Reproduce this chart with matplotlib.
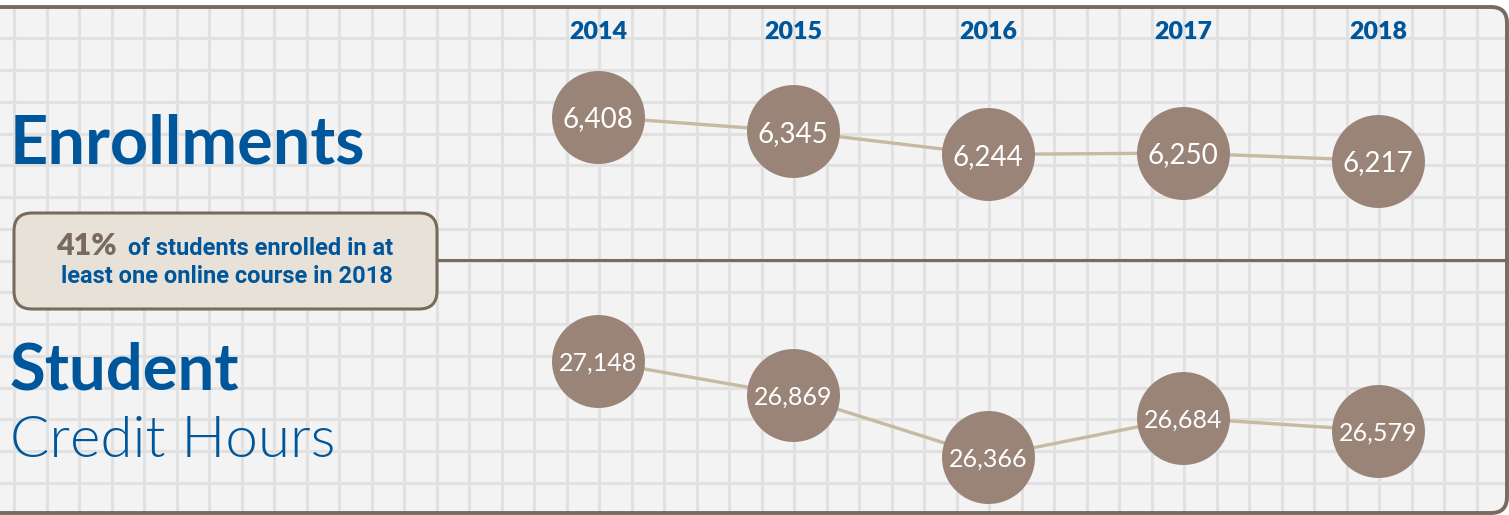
import matplotlib
matplotlib.use("Agg")
import matplotlib.pyplot as plt
from matplotlib.patches import FancyBboxPatch

# data
years = [2014, 2015, 2016, 2017, 2018]
enrollments = [6408, 6345, 6244, 6250, 6217]
credit_hours = [27148, 26869, 26366, 26684, 26579]
online_share = "41%"
note_rest = "of students enrolled in at"
note_line2 = "least one online course in 2018"

# colours
BG = "#f3f3f3"
GRID = "#e1e1e1"
BORDER = "#786b5d"
BLUE = "#00569a"
CIRCLE = "#9a8477"
LINK = "#c6baa2"
BOXFILL = "#e8e1d8"

W, H = 1509, 515
fig = plt.figure(figsize=(W / 100, H / 100), dpi=100, facecolor="white")

# background axes in pixel coords (y down)
bg = fig.add_axes([0, 0, 1, 1])
bg.set_xlim(0, W)
bg.set_ylim(H, 0)
bg.axis("off")

frame = FancyBboxPatch((-60, 7), W + 60 - 2, 506, boxstyle="round,pad=0,rounding_size=16",
                       facecolor=BG, edgecolor="none", zorder=0)
bg.add_patch(frame)

# graph-paper grid
x = 14.0
while x < W:
    ln = bg.axvline(x, color=GRID, lw=2.2, zorder=1)
    ln.set_clip_path(frame)
    x += 32.5
y = 6.6
while y < H:
    ln = bg.axhline(y, color=GRID, lw=2.2, zorder=1)
    ln.set_clip_path(frame)
    y += 31.75

border = FancyBboxPatch((-60, 7), W + 60 - 2, 506, boxstyle="round,pad=0,rounding_size=16",
                        facecolor="none", edgecolor=BORDER, lw=2.8, zorder=5)
bg.add_patch(border)

# divider between the two panels
bg.plot([438, W], [260, 260], color=BORDER, lw=2.2, zorder=2)

# note box
box = FancyBboxPatch((14, 213), 423, 96, boxstyle="round,pad=0,rounding_size=18",
                     facecolor=BOXFILL, edgecolor=BORDER, lw=2.2, zorder=3)
bg.add_patch(box)
bg.text(56, 255, online_share, fontfamily="Lato", fontweight="heavy", fontsize=22,
        color=BORDER, va="baseline", ha="left", zorder=4)
bg.text(128, 255, note_rest, fontfamily="Roboto", fontweight="bold",
        fontsize=17, color=BLUE, va="baseline", ha="left", zorder=4)
bg.text(227, 283, note_line2, fontfamily="Roboto", fontweight="bold",
        fontsize=17, color=BLUE, va="baseline", ha="center", zorder=4)

# headings
bg.text(10, 164, "Enrollments", fontfamily="Lato", fontweight="bold", fontsize=48,
        color=BLUE, va="baseline", ha="left", zorder=4)
bg.text(10, 389, "Student", fontfamily="Lato", fontweight="bold", fontsize=47,
        color=BLUE, va="baseline", ha="left", zorder=4)
bg.text(10, 457, "Credit Hours", fontfamily="Lato", fontweight=300, fontsize=42,
        color=BLUE, va="baseline", ha="left", zorder=4)


def panel(top, bottom, ylim, values, size):
    # axes placed by pixel rows, data mapped through its own y scale
    ax = fig.add_axes([598 / W, 1 - bottom / H, 780 / W, (bottom - top) / H])
    ax.set_xlim(years[0], years[-1])
    ax.set_ylim(*ylim)
    ax.axis("off")
    ax.plot(years, values, color=LINK, lw=2.4, zorder=2, clip_on=False)
    ax.scatter(years, values, s=4480, color=CIRCLE, zorder=3, clip_on=False, linewidths=0)
    for yr, v in zip(years, values):
        ax.text(yr, v, f"{v:,}", fontfamily="Lato", fontsize=size, color="white",
                ha="center", va="center_baseline", zorder=4)
    return ax


ax1 = panel(60, 210, (6002, 6655), enrollments, 20)
panel(300, 500, (26014, 27644), credit_hours, 18)

# year labels above the top panel
for yr in years:
    ax1.annotate(str(yr), xy=(yr, 0), xycoords=("data", "figure fraction"),
                 xytext=(0, (H - 32) * 0.72), textcoords="offset points",
                 fontfamily="Lato", fontweight="heavy", fontsize=18, color=BLUE,
                 ha="center", va="center")

fig.savefig("out.png", dpi=100, facecolor="white")
